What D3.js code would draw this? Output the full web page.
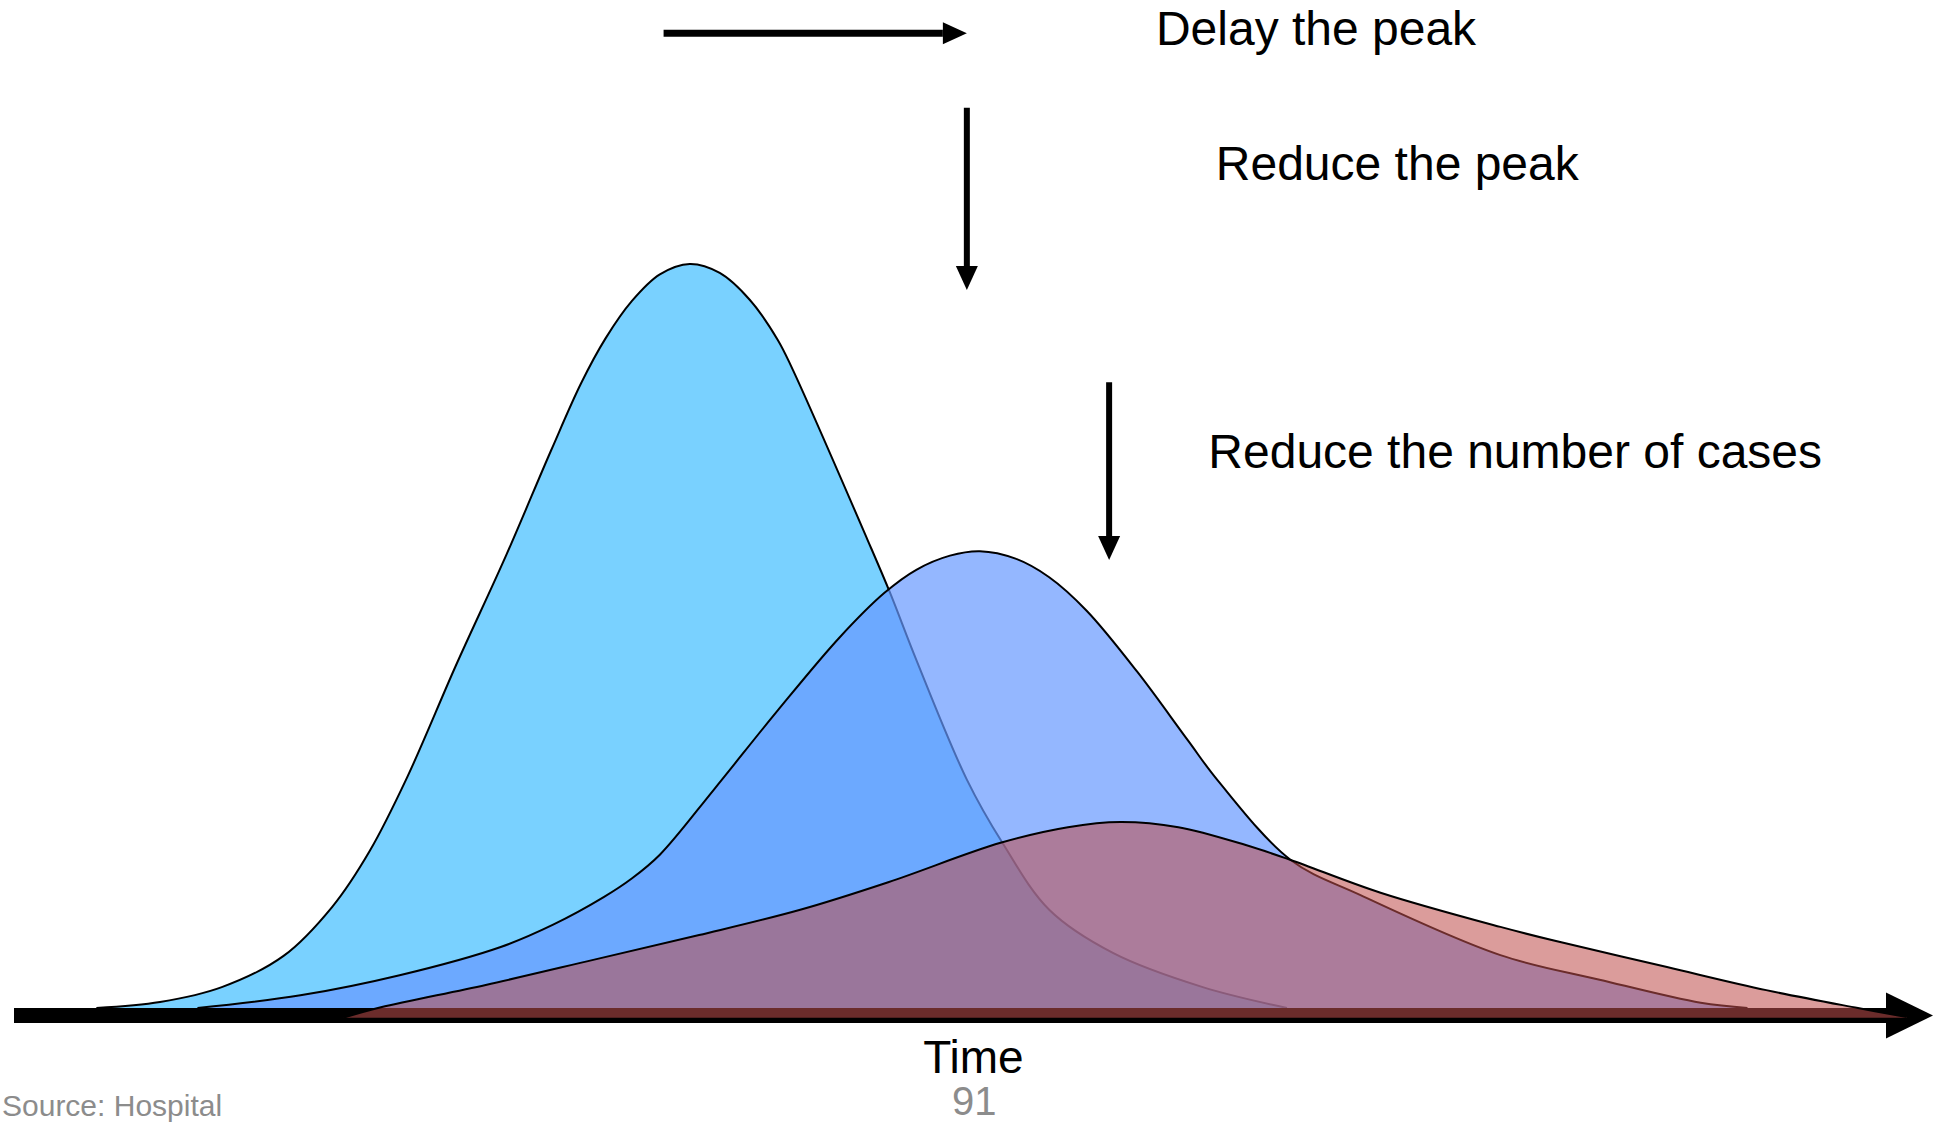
<!DOCTYPE html>
<html>
<head>
<meta charset="utf-8">
<script src="https://cdn.jsdelivr.net/npm/d3@7"></script>
<style>
  html, body { margin: 0; padding: 0; background: #fff; overflow: hidden; }
  svg { display: block; }
</style>
</head>
<body>
<svg id="chart"></svg>
<script>
// Epidemic curves as [time, cases] pairs, in relative units
// (time 0–100 along the axis, peak of the unmitigated outbreak = 100 cases).
const unmitigated = [
  [4.4, 0], [7.8, 0.8], [11.1, 2.8], [14.4, 7.0], [17.0, 13.6], [19.0, 21.1],
  [21.0, 31.0], [23.6, 46.0], [26.3, 60.9], [28.7, 75.0], [30.3, 84.0],
  [31.6, 90.0], [33.0, 95.0], [34.5, 98.6], [36.1, 100], [37.7, 98.8],
  [39.3, 95.2], [40.8, 89.8], [41.6, 85.8], [45.6, 62.9], [46.8, 55.8],
  [48.2, 46.8], [50.9, 30.7], [52.8, 22.2], [55.3, 13.2], [58.7, 7.4],
  [63.5, 2.8], [68.0, 0]
];
const delayedPeak = [
  [9.8, 0], [15.3, 1.7], [20.6, 4.4], [26.0, 8.2], [28.8, 11.2], [31.5, 14.9],
  [33.0, 17.4], [34.5, 20.6], [37.4, 29.4], [40.8, 40.0], [44.1, 49.8],
  [46.5, 55.8], [48.2, 58.9], [50.0, 60.8], [51.6, 61.4], [53.5, 60.4],
  [55.3, 57.9], [57.3, 53.4], [60.0, 45.2], [62.7, 36.0], [64.3, 30.6],
  [68.2, 19.9], [71.9, 15.2], [79.4, 7.1], [84.7, 3.8], [90.1, 0.7], [92.6, 0]
];
const fewerCases = [
  [17.6, -1.3], [19.6, 0.1], [25.2, 3.1], [31.0, 6.5], [36.6, 9.8], [42.0, 13.2],
  [46.7, 16.9], [52.7, 22.2], [56.3, 24.3], [59.1, 25.0], [62.2, 24.3],
  [65.8, 21.9], [68.2, 19.9], [73.0, 15.5], [79.4, 10.9], [82.2, 9.1],
  [88.3, 5.5], [93.6, 2.4], [98.5, 0], [101.1, -1.2]
];

// Annotation arrows [x1, y1, x2, y2] and their captions [x, y, text], same units
const arrowSegments = [
  [34.7, 131.0, 50.9, 131.0],
  [50.9, 121.0, 50.9, 96.5],
  [58.5, 84.1, 58.5, 60.2]
];
const captions = [
  [61.0, 129.4, "Delay the peak"],
  [64.2, 111.3, "Reduce the peak"],
  [63.8, 72.6, "Reduce the number of cases"]
];
const axisTitle = "Time";
const pageNumber = "91";
const footnote = "Source: Hospital";

const W = 1934, H = 1124;
const svg = d3.select("#chart").attr("width", W).attr("height", H);

const x = d3.scaleLinear().domain([0, 100]).range([14, 1886]);
const y = d3.scaleLinear().domain([0, 100]).range([1008, 264]);

const FONT = "'Liberation Sans', Arial, sans-serif";

// ---- time axis: thick black bar with an arrowhead ----
const axisW = 15;
const axisY = y(0) + axisW / 2;
svg.append("line")
  .attr("x1", x(0)).attr("x2", x(100))
  .attr("y1", axisY).attr("y2", axisY)
  .attr("stroke", "#000").attr("stroke-width", axisW);
svg.append("path")
  .attr("d", `M${x(100)},${axisY - 23}L${x(100) + 47},${axisY}L${x(100)},${axisY + 23}Z`)
  .attr("fill", "#000");

// ---- curves ----
const layers = [
  { data: unmitigated, fill: "rgb(121,209,255)", opacity: 1 },
  { data: delayedPeak, fill: "rgb(102,153,255)", opacity: 0.7 },
  { data: fewerCases, fill: "rgb(190,78,76)", opacity: 0.56 }
];
const curve = d3.curveCatmullRom.alpha(0.5);

layers.forEach(layer => {
  const floor = Math.min(0, d3.min(layer.data, d => d[1]));
  const area = d3.area()
    .x(d => x(d[0]))
    .y0(y(floor))
    .y1(d => y(d[1]))
    .curve(curve);
  const line = d3.line()
    .x(d => x(d[0]))
    .y(d => y(d[1]))
    .curve(curve);
  svg.append("path")
    .datum(layer.data)
    .attr("d", area)
    .attr("fill", layer.fill)
    .attr("fill-opacity", layer.opacity);
  svg.append("path")
    .datum(layer.data)
    .attr("d", line)
    .attr("fill", "none")
    .attr("stroke", "#000")
    .attr("stroke-width", 2);
});

// ---- annotation arrows ----
const head = 24, headHalf = 11;
arrowSegments.forEach(([x1, y1, x2, y2]) => {
  const px1 = x(x1), py1 = y(y1), px2 = x(x2), py2 = y(y2);
  const horizontal = py1 === py2;
  const ang = Math.atan2(py2 - py1, px2 - px1);
  const bx = px2 - head * Math.cos(ang), by = py2 - head * Math.sin(ang);
  svg.append("line")
    .attr("x1", px1).attr("y1", py1).attr("x2", bx).attr("y2", by)
    .attr("stroke", "#000").attr("stroke-width", horizontal ? 7 : 6);
  const nx = -Math.sin(ang), ny = Math.cos(ang);
  svg.append("path")
    .attr("d", `M${bx + nx * headHalf},${by + ny * headHalf}L${px2},${py2}L${bx - nx * headHalf},${by - ny * headHalf}Z`)
    .attr("fill", "#000");
});

svg.selectAll("text.caption")
  .data(captions)
  .join("text")
  .attr("class", "caption")
  .attr("x", d => x(d[0]))
  .attr("y", d => y(d[1]))
  .attr("font-family", FONT)
  .attr("font-size", 48)
  .attr("fill", "#000")
  .text(d => d[2]);

// ---- axis title, page number, footnote ----
svg.append("text")
  .attr("x", x(51.25)).attr("y", y(0) + 65)
  .attr("text-anchor", "middle")
  .attr("font-family", FONT).attr("font-size", 46)
  .attr("fill", "#000")
  .text(axisTitle);

svg.append("text")
  .attr("x", x(51.3)).attr("y", y(0) + 107)
  .attr("text-anchor", "middle")
  .attr("font-family", FONT).attr("font-size", 40)
  .attr("fill", "#8c8c8c")
  .text(pageNumber);

svg.append("text")
  .attr("x", 2).attr("y", H - 8)
  .attr("font-family", FONT).attr("font-size", 30)
  .attr("fill", "#8c8c8c")
  .text(footnote);
</script>
</body>
</html>
